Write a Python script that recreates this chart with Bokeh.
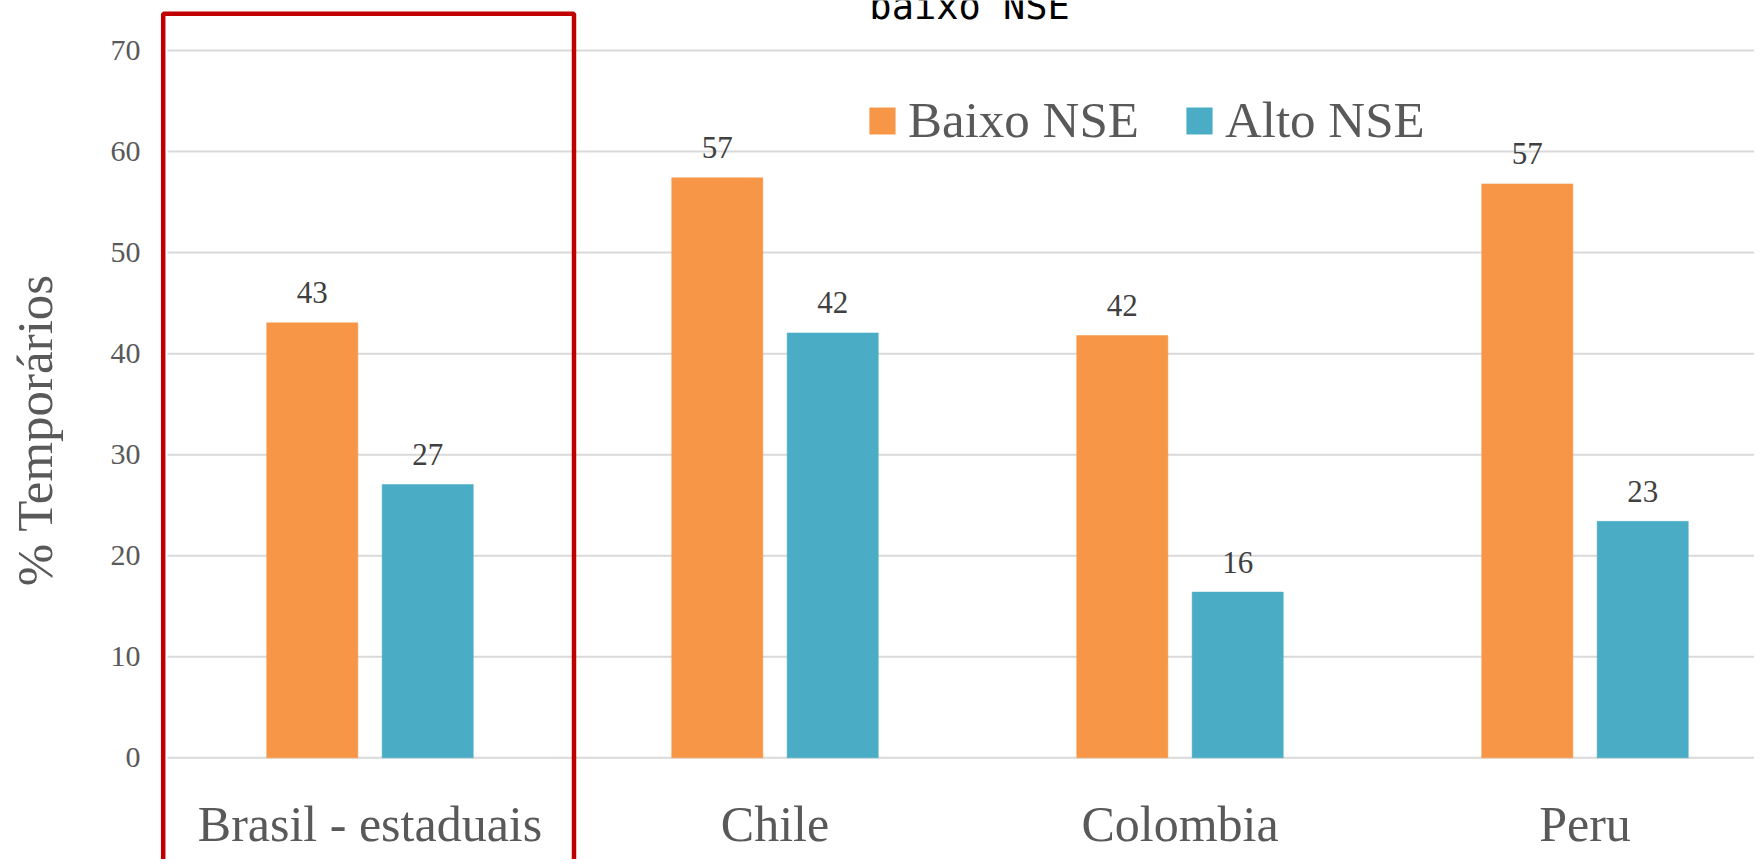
from bokeh.plotting import figure
from bokeh.models import FixedTicker, Legend, LegendItem, ColumnDataSource
from bokeh.core.properties import value
from bokeh.embed import file_html
from bokeh.resources import INLINE

# ---- data ----
categories = ["Brasil - estaduais", "Chile", "Colombia", "Peru"]
baixo_nse = [43.05, 57.4, 41.8, 56.8]
alto_nse = [27.05, 42.05, 16.4, 23.4]
series_names = ["Baixo NSE", "Alto NSE"]
y_ticks = [0, 10, 20, 30, 40, 50, 60, 70]
title_text = "baixo NSE"
y_title = "% Temporários"

# ---- styling / layout ----
ORANGE = "#F79646"
BLUE = "#4BACC6"
SERIF = "Liberation Serif"
GRAY = "#595959"

x_start, x_end = -0.0222, 3.9185
y_start, y_end = -10.065, 74.95

p = figure(width=1754, height=859, output_backend="svg", toolbar_location=None,
           x_range=(x_start, x_end), y_range=(y_start, y_end),
           min_border_left=158, min_border_right=0, min_border_top=0, min_border_bottom=0)
p.outline_line_color = None
p.xaxis.visible = False
p.xgrid.visible = False
p.ygrid.visible = False
p.background_fill_color = "white"
p.border_fill_color = "white"

yax = p.yaxis[0]
yax.ticker = FixedTicker(ticks=y_ticks)
yax.axis_line_color = None
yax.major_tick_line_color = None
yax.minor_tick_line_color = None
yax.major_tick_out = 0
yax.major_label_standoff = 18
yax.major_label_text_font = SERIF
yax.major_label_text_font_size = "30px"
yax.major_label_text_color = GRAY
yax.axis_label = y_title
yax.axis_label_text_font = SERIF
yax.axis_label_text_font_size = "51px"
yax.axis_label_text_font_style = "normal"
yax.axis_label_text_color = GRAY
yax.axis_label_standoff = 45

# gridlines
p.segment(x0=[0] * len(y_ticks), x1=[x_end] * len(y_ticks), y0=y_ticks, y1=y_ticks,
          line_color="#d9d9d9", line_width=2)

centers = [i + 0.5 for i in range(len(categories))]
bar_w = 0.225
off = 0.1425
x_b = [c - off for c in centers]
x_a = [c + off for c in centers]

src_b = ColumnDataSource(dict(x=x_b, top=baixo_nse, lab=[f"{v:.0f}" for v in baixo_nse]))
src_a = ColumnDataSource(dict(x=x_a, top=alto_nse, lab=[f"{v:.0f}" for v in alto_nse]))

r_b = p.vbar(x="x", top="top", bottom=0, width=bar_w, source=src_b,
             fill_color=ORANGE, line_color=ORANGE, line_width=0.5)
r_a = p.vbar(x="x", top="top", bottom=0, width=bar_w, source=src_a,
             fill_color=BLUE, line_color=BLUE, line_width=0.5)

for src in (src_b, src_a):
    p.text(x="x", y="top", text="lab", source=src, y_offset=-30,
           text_align="center", text_baseline="alphabetic",
           text_font=value(SERIF), text_font_size="31px", text_color="#404040")

# category labels
p.text(x=centers, y=[-8.28] * len(centers), text=categories, y_offset=-17,
       text_align="center", text_baseline="alphabetic",
       text_font=value(SERIF), text_font_size="50px", text_color=GRAY)

# red highlight box around first category
p.quad(left=[-0.0106], right=[1.0037], top=[73.63], bottom=[-20],
       fill_color=None, line_color="#c00000", line_width=4.5)

# cut-off title text
p.text(x=[1.733], y=[72.97], text=[title_text], y_offset=-14, text_align="left",
       text_baseline="alphabetic", text_font=value("DejaVu Sans Mono"),
       text_font_size="37px", text_color="black")

legend = Legend(items=[LegendItem(label=series_names[0], renderers=[r_b]),
                       LegendItem(label=series_names[1], renderers=[r_a])],
                orientation="horizontal", location=(708, 710),
                padding=0, margin=0, spacing=44, label_standoff=10,
                glyph_width=32, glyph_height=33,
                label_text_font=SERIF, label_text_font_size="51px",
                label_text_color=GRAY, border_line_color=None,
                background_fill_alpha=0)
p.add_layout(legend)

open("out.html", "w").write(file_html(p, INLINE))
